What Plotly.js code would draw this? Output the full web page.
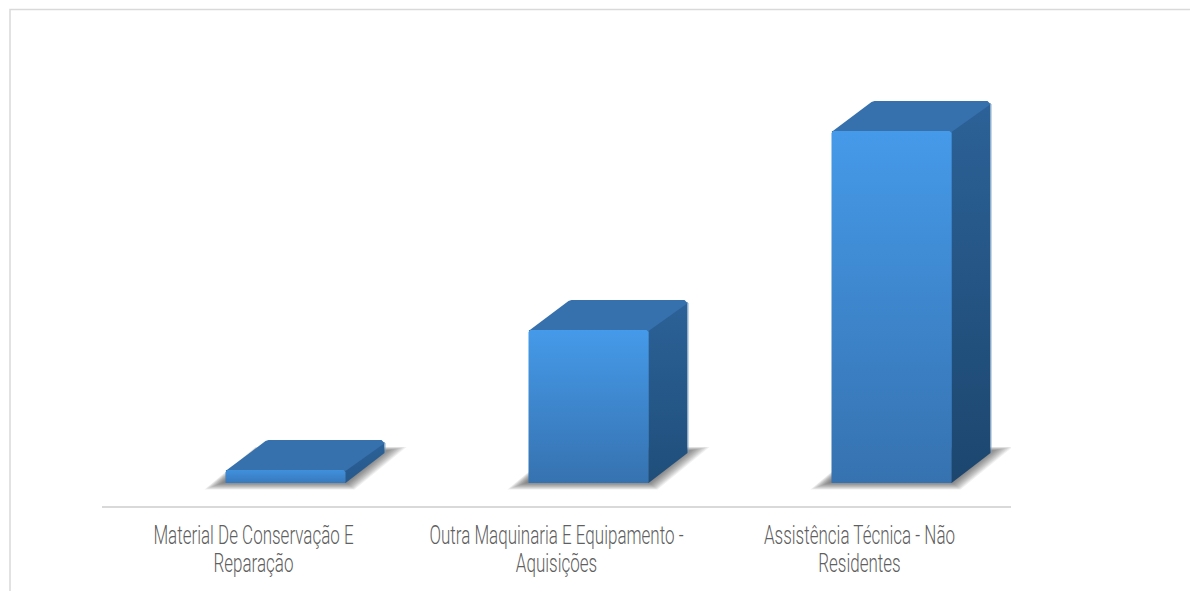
<!DOCTYPE html>
<html><head><meta charset="utf-8">
<script src="https://cdn.plot.ly/plotly-3.0.1.min.js"></script>
<style>html,body{margin:0;padding:0;background:#fff;overflow:hidden}</style>
</head><body><div id="chart" style="width:1190px;height:591px"></div>
<script>
const categories = ["Material De Conservação E<br>Reparação", "Outra Maquinaria E Equipamento -<br>Aquisições", "Assistência Técnica - Não<br>Residentes"];
const values = [13, 153, 352];
const frontTop = ['#4090dd', '#459ae9', '#459ae9'];
const frontBottom = ['#3879bc', '#3672b0', '#3672b0'];
const sideBottom = ['#26598c', '#1f4e7a', '#1c466e'];

const W = 1190, H = 591, L = 102, R = 1011, T = 40, B = 506;
const catPx = (R - L) / 3;
const px = 1 / catPx;              // one screen pixel in x-axis units
const floorY = 23;                 // gap between the axis line and the bars' base (y units are pixels)
const shift = 32 * px, halfW = 60 * px, depX = 39 * px, depY = 30;

const traces = [];
const poly = (xs, ys, extra) => traces.push(Object.assign({
  type: 'scatter', mode: 'lines', x: xs.concat(xs[0]), y: ys.concat(ys[0]), fill: 'toself',
  line: {width: 0}, hoverinfo: 'skip', showlegend: false}, extra));
const grad = (c0, c1, a, b) => ({type: 'vertical', start: a, stop: b, colorscale: [[0, c0], [1, c1]]});

// real bars
traces.push({type: 'bar', x: categories.map((_, i) => i + shift), y: values, width: 2 * halfW,
  marker: {color: '#3c85cc'}, hoverinfo: 'skip', showlegend: false});

values.forEach((v, i) => {
  const x0 = i + shift - halfW, x1 = i + shift + halfW;
  // soft floor shadow: nested translucent parallelograms
  const n = 12;
  for (let k = 0; k < n; k++) {
    const t = k / (n - 1);
    poly([x0 - (21 - 19 * t) * px, x1 + (9 - 8 * t) * px, x1 + (61 - 22 * t) * px, x1 + (36 - 6 * t) * px, x0 + 30 * px],
         [-6.5 + 7 * t, -6.5 + 7 * t, 36 - 4 * t, 36 - 4 * t, 36 - 4 * t],
         {fillcolor: 'rgba(60,60,60,0.08)'});
  }
  // side face
  poly([x1, x1 + depX, x1 + depX, x1], [0, depY, v + depY - 2, v],
       {fillcolor: '#25557f', fillgradient: grad(sideBottom[i], '#2c6298', 0, v + depY)});
  // faint rim of the back edge
  traces.push({type: 'scatter', mode: 'lines', x: [x1 + depX + 0.8 * px, x1 + depX + 0.8 * px], y: [depY, v + depY - 3],
    line: {color: 'rgba(120,165,205,0.55)', width: 1}, hoverinfo: 'skip', showlegend: false});
  // top face with softened back corners
  poly([x0, x0 + depX + 1 * px, x0 + depX + 4 * px, x1 + depX - 3 * px, x1 + depX, x1 + depX - 1 * px, x1],
       [v - 1, v + depY - 1, v + depY, v + depY, v + depY - 3, v + depY - 4, v - 1],
       {fillcolor: '#3671ad'});
  // front face
  poly([x0, x0 + 2 * px, x1 - 2 * px, x1, x1, x0], [v - 2, v, v, v - 2, 0, 0],
       {fillcolor: '#3c85cc', fillgradient: grad(frontBottom[i], frontTop[i], 0, v)});
});

const mid = categories.map((_, i) => i);
const layout = {
  width: W, height: H, paper_bgcolor: '#fff', plot_bgcolor: '#fff',
  margin: {l: L, r: W - R, t: T, b: H - B, pad: 0},
  bargap: 0, showlegend: false,
  xaxis: {range: [-0.5, 2.5], tickmode: 'array', tickvals: mid, ticktext: categories,
    showgrid: false, zeroline: false, showline: true, linecolor: '#d9d9d9', linewidth: 2,
    ticks: '', ticklabelstandoff: 6, tickangle: 0, fixedrange: true,
    tickfont: {family: 'Roboto, "Liberation Sans", sans-serif', size: 25, color: '#5f5f5f', weight: 300}},
  yaxis: {range: [-floorY, B - T - floorY], visible: false, fixedrange: true},
  shapes: [{type: 'path', xref: 'paper', yref: 'paper',
    path: `M ${(10 - L) / (R - L)} ${(B - H - 5) / (B - T)} L ${(10 - L) / (R - L)} ${(B - 9.5) / (B - T)} L ${(W - L) / (R - L)} ${(B - 9.5) / (B - T)}`,
    line: {color: '#d9d9d9', width: 1.5}}]
};
Plotly.newPlot('chart', traces, layout, {displayModeBar: false, staticPlot: true}).then(() => {
  // condense the tick labels horizontally and tighten line spacing
  const squeeze = 0.68;
  document.querySelectorAll('.xtick text').forEach(t => {
    const cx = parseFloat(t.getAttribute('x')) || 0;
    const old = t.getAttribute('transform') || '';
    t.setAttribute('transform', `${old} translate(${cx},0) scale(${squeeze},1) translate(${-cx},0)`);
    t.querySelectorAll('tspan.line').forEach((s, i) => { if (i > 0) s.setAttribute('dy', '28px'); });
  });
});
</script></body></html>
